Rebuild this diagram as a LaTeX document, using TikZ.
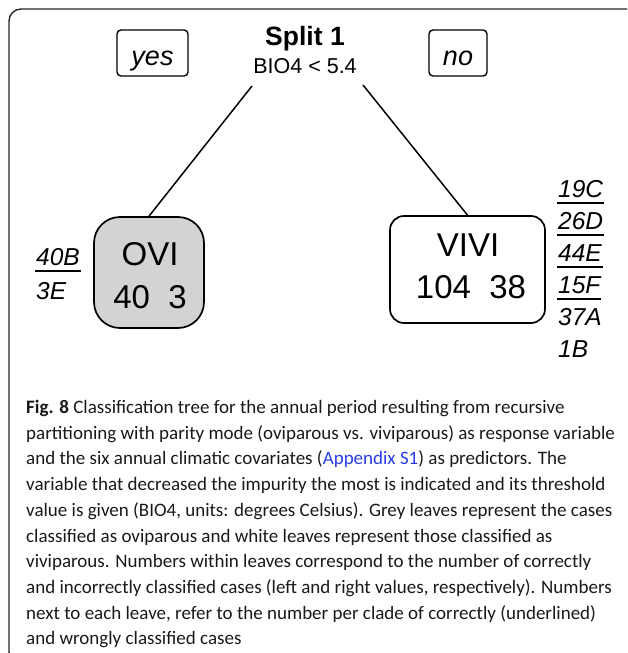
\documentclass[tikz,border=0pt]{standalone}
\usepackage{fontspec}
\setmainfont{Liberation Sans}
\newfontfamily\capfont{Carlito}
\definecolor{leafgrey}{RGB}{211,211,211}
\definecolor{linkblue}{RGB}{40,60,235}
\newsavebox\cladebox
\newcommand{\cladeul}[1]{\sbox\cladebox{#1}\rlap{\kern-1pt\rule[-6.5pt]{\dimexpr\wd\cladebox+2pt\relax}{1.5pt}}\usebox\cladebox}
\begin{document}
\begin{tikzpicture}[x=1pt, y=-1pt,
  sidebox/.style={draw, line width=1.4pt, rounded corners=4pt, inner sep=0pt, text height=28pt, text depth=4pt, minimum height=46pt, font=\fontsize{27}{27}\selectfont\itshape},
  leaf/.style={draw, line width=1.7pt, inner sep=0pt},
  leaftext/.style={anchor=base, inner sep=0pt, font=\fontsize{33}{33}\selectfont},
  clade/.style={anchor=base west, inner sep=0pt, font=\fontsize{24.5}{24.5}\selectfont\itshape},
  branch/.style={line width=1.5pt}]
\clip (0,0) rectangle (627,653);
\draw[line width=1.4pt, black!85, rounded corners=12pt] (9,9) rectangle (660,664);
\node[anchor=base, inner sep=0pt, font=\fontsize{26.5}{26.5}\selectfont\bfseries] (split) at (305,45) {Split 1};
\node[anchor=base, inner sep=0pt, font=\fontsize{21.5}{21.5}\selectfont] (thresh) at (305,73) {BIO4 < 5.4};
\node[sidebox, minimum width=71pt] (yes) at (152.5,53) {yes};
\node[sidebox, minimum width=58pt] (no) at (458,53) {no};
\node[leaf, fill=leafgrey, rounded corners=26pt, minimum width=110pt, minimum height=111pt] (ovi) at (149,272.5) {};
\node[leaf, rounded corners=14pt, minimum width=155pt, minimum height=107pt] (vivi) at (467.5,269.5) {};
\draw[branch] ([xshift=-53pt,yshift=-13pt]thresh.base) -- (ovi.north);
\draw[branch] ([xshift=58pt,yshift=-12pt]thresh.base) -- (vivi.north);
\node[leaftext] (ovilab) at (150,265) {OVI};
\node[leaftext] (ovinum) at (150,308) {40\ \ 3};
\node[leaftext] (vivilab) at (468,256) {VIVI};
\node[leaftext] (vivinum) at (471,298) {104\ \ 38};
\node[clade] (c40b) at (36,265) {\cladeul{40B}};
\node[clade] (c3e) at (36,299) {3E};
\node[clade] (c19c) at (558,197) {\cladeul{19C}};
\node[clade] (c26d) at (558,229) {\cladeul{26D}};
\node[clade] (c44e) at (558,261) {\cladeul{44E}};
\node[clade] (c15f) at (558,293) {\cladeul{15F}};
\node[clade] (c37a) at (558,325) {37A};
\node[clade] (c1b) at (558,357) {1B};
\node[anchor=north west, align=left, inner sep=0pt, text=black!90, font=\capfont\fontsize{19}{25.7}\selectfont] (caption) at (26,400) {\textbf{Fig. 8} Classification tree for the annual period resulting from recursive\\
partitioning with parity mode (oviparous vs. viviparous) as response variable\\
and the six annual climatic covariates ({\color{linkblue}Appendix S1}) as predictors. The\\
variable that decreased the impurity the most is indicated and its threshold\\
value is given (BIO4, units: degrees Celsius). Grey leaves represent the cases\\
classified as oviparous and white leaves represent those classified as\\
viviparous. Numbers within leaves correspond to the number of correctly\\
and incorrectly classified cases (left and right values, respectively). Numbers\\
next to each leave, refer to the number per clade of correctly (underlined)\\
and wrongly classified cases};
\end{tikzpicture}
\end{document}
